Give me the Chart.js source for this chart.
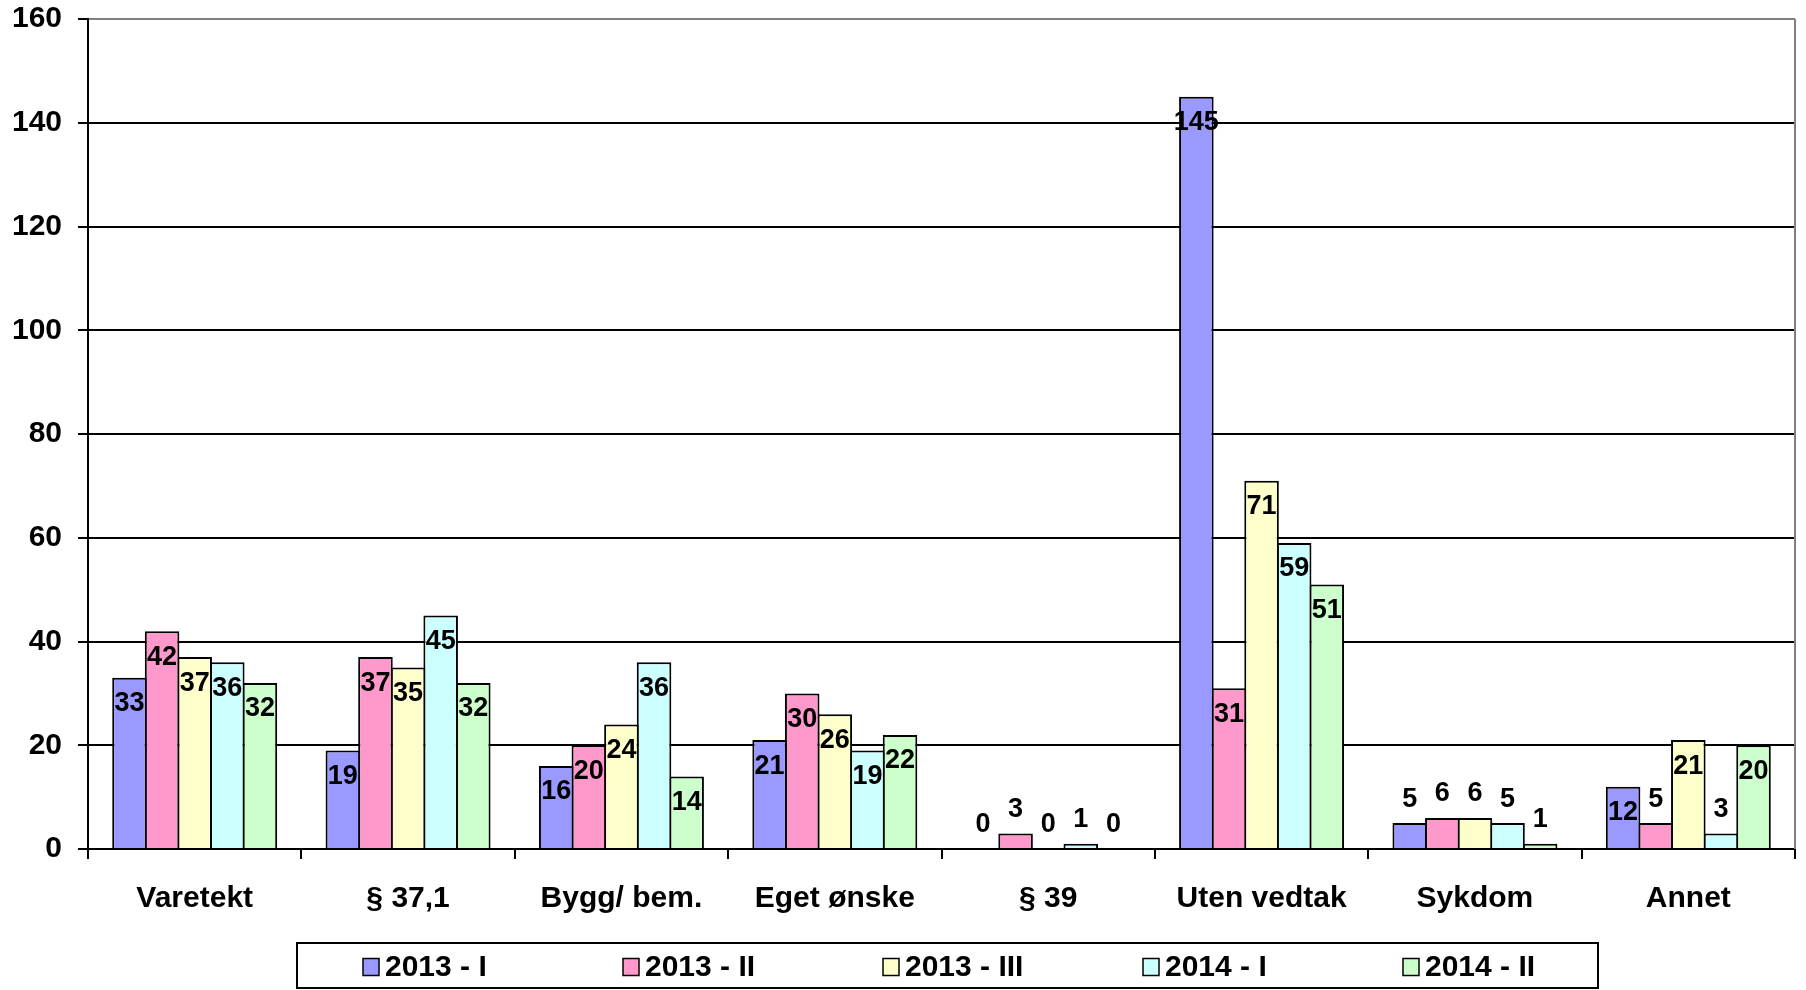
<!DOCTYPE html>
<html>
<head>
<meta charset="utf-8">
<script src="https://cdn.jsdelivr.net/npm/chart.js@4/dist/chart.umd.min.js"></script>
<style>
  body { margin: 0; background: #fff; }
</style>
</head>
<body>
<canvas id="chart" width="1806" height="990"></canvas>
<script>
const categories = ['Varetekt', '§ 37,1', 'Bygg/ bem.', 'Eget ønske', '§ 39', 'Uten vedtak', 'Sykdom', 'Annet']
const seriesNames = ['2013 - I', '2013 - II', '2013 - III', '2014 - I', '2014 - II']
const s2013I = [33, 19, 16, 21, 0, 145, 5, 12]
const s2013II = [42, 37, 20, 30, 3, 31, 6, 5]
const s2013III = [37, 35, 24, 26, 0, 71, 6, 21]
const s2014I = [36, 45, 36, 19, 1, 59, 5, 3]
const s2014II = [32, 32, 14, 22, 0, 51, 1, 20]
const yTicks = [0, 20, 40, 60, 80, 100, 120, 140, 160]
const colors = ['#9999ff', '#ff99cc', '#ffffcc', '#ccffff', '#ccffcc']

const FONT = '"Liberation Sans", Arial, sans-serif'

// value labels: inside the top of the bar, above it when the bar is short
const valueLabels = {
    id: 'valueLabels',
    afterDatasetsDraw(chart) {
        const ctx = chart.ctx
        ctx.save()
        ctx.font = 'bold 27px ' + FONT
        ctx.fillStyle = '#000'
        ctx.textAlign = 'center'
        ctx.textBaseline = 'middle'
        chart.data.datasets.forEach((ds, i) => {
            chart.getDatasetMeta(i).data.forEach((bar, j) => {
                const h = bar.base - bar.y
                const y = h > 45 ? bar.y + 26 : bar.y - 24
                ctx.fillText(ds.data[j], bar.x, y)
            })
        })
        ctx.restore()
    }
}

// right border of the plot and the boxed legend under the axis
const frame = {
    id: 'frame',
    afterDraw(chart) {
        const {ctx, chartArea: a} = chart
        ctx.save()
        ctx.strokeStyle = '#808080'
        ctx.lineWidth = 2
        ctx.beginPath()
        ctx.moveTo(a.right, a.top)
        ctx.lineTo(a.right, a.bottom)
        ctx.stroke()

        const boxW = 1301, boxH = 45
        const boxTop = a.bottom + 94
        const boxLeft = (a.left + a.right) / 2 + 6 - boxW / 2
        ctx.strokeStyle = '#000'
        ctx.strokeRect(boxLeft, boxTop, boxW, boxH)

        ctx.font = 'bold 30px ' + FONT
        ctx.textBaseline = 'middle'
        ctx.textAlign = 'left'
        ctx.lineWidth = 1.5
        chart.data.datasets.forEach((ds, i) => {
            const x = boxLeft + 66 + i * 260
            const cy = boxTop + boxH / 2 + 1
            ctx.fillStyle = ds.backgroundColor
            ctx.fillRect(x, cy - 8, 16, 17)
            ctx.strokeRect(x, cy - 8, 16, 17)
            ctx.fillStyle = '#000'
            ctx.fillText(ds.label, x + 22, cy + 1)
        })
        ctx.restore()
    }
}

const series = [s2013I, s2013II, s2013III, s2014I, s2014II]
const data = {
    labels: categories,
    datasets: series.map((values, i) => ({
        label: seriesNames[i],
        data: values,
        backgroundColor: colors[i],
        borderColor: '#000',
        borderWidth: 2,
        categoryPercentage: 0.764,
        barPercentage: 1.06
    }))
}

const options = {
    responsive: false,
    animation: false,
    layout: {
        padding: {top: 19, right: 11, left: 0, bottom: 50}
    },
    plugins: {
        legend: {display: false},
        tooltip: {enabled: false}
    },
    scales: {
        x: {
            afterFit: s => { s.height = 91 },
            grid: {
                drawOnChartArea: false,
                tickLength: 10,
                color: '#000',
                lineWidth: 2
            },
            border: {color: '#000', width: 2},
            ticks: {
                padding: 22,
                color: '#000',
                font: {family: FONT, weight: 'bold', size: 30}
            }
        },
        y: {
            min: yTicks[0],
            max: yTicks[yTicks.length - 1],
            afterBuildTicks: s => { s.ticks = yTicks.map(v => ({value: v})) },
            afterFit: s => {
                s.width = 88
                s.paddingTop = 0
                s.paddingBottom = 0
            },
            grid: {
                tickLength: 10,
                lineWidth: 2,
                color: c => c.tick && c.tick.value === 160 ? '#808080' : '#000',
                tickColor: '#000'
            },
            border: {color: '#000', width: 2},
            ticks: {
                padding: 16,
                color: '#000',
                font: {family: FONT, weight: 'bold', size: 30}
            }
        }
    }
}

new Chart(document.getElementById('chart'), {
    type: 'bar',
    data: data,
    options: options,
    plugins: [valueLabels, frame]
})
</script>
</body>
</html>
